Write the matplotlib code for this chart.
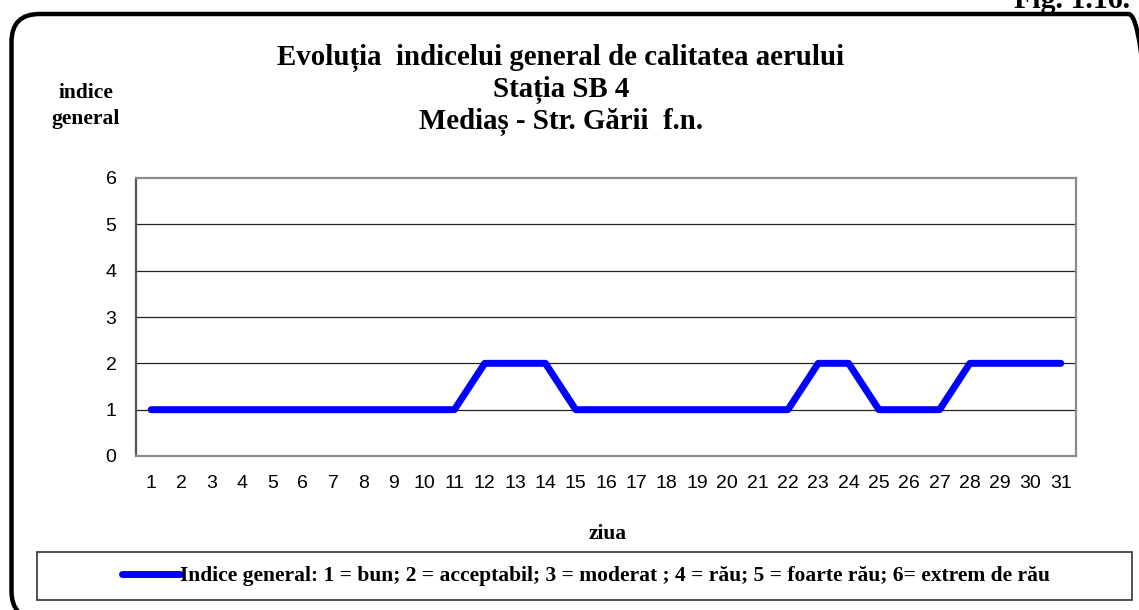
import matplotlib
matplotlib.use("Agg")
import matplotlib.pyplot as plt
from matplotlib.patches import FancyBboxPatch, Rectangle

# ---- data ----
days = list(range(1, 32))
day_labels = [str(d) for d in days]
indice = [1, 1, 1, 1, 1, 1, 1, 1, 1, 1, 1,
          2, 2, 2,
          1, 1, 1, 1, 1, 1, 1, 1,
          2, 2,
          1, 1, 1,
          2, 2, 2, 2]
y_ticks = [0, 1, 2, 3, 4, 5, 6]

title = "Evoluția  indicelui general de calitatea aerului\nStația SB 4\nMediaș - Str. Gării  f.n."
legend_label = "Indice general: 1 = bun; 2 = acceptabil; 3 = moderat ; 4 = rău; 5 = foarte rău; 6= extrem de rău"

W, H = 1139, 610
fig = plt.figure(figsize=(W / 100, H / 100), dpi=100)
fig.patch.set_facecolor("white")

def fx(px):
    return px / W

def fy(py):
    return 1 - py / H

serif = "Liberation Serif"
sans = "Liberation Sans"

# outer rounded frame, runs off the right/bottom edges (inches from bottom-left)
frame = FancyBboxPatch((0.115, (H - 619) / 100), 11.45, (619 - 14) / 100,
                       boxstyle="round,pad=0,rounding_size=0.28",
                       transform=fig.dpi_scale_trans, facecolor="none",
                       edgecolor="black", linewidth=3.2, clip_on=False)
fig.patches.append(frame)

fig.text(fx(1130), fy(8), "Fig. 1.16.", ha="right", va="baseline",
         family=serif, weight="bold", fontsize=21.5)

# ---- axes ----
ax = fig.add_axes([fx(136), fy(456), fx(1076) - fx(136), fy(178) - fy(456)])
ax.plot(days, indice, color="#0000ff", linewidth=5, solid_capstyle="round",
        solid_joinstyle="round", label=legend_label, zorder=3)

ax.set_xlim(0.5, 31.5)
ax.set_ylim(0, 6)
ax.set_yticks(y_ticks)
ax.set_xticks(days)
ax.set_xticklabels(day_labels)
ax.tick_params(length=0, labelsize=14)
ax.tick_params(axis="x", pad=14)
ax.tick_params(axis="y", pad=14)
for lab in ax.get_xticklabels() + ax.get_yticklabels():
    lab.set_family(sans)

for y in y_ticks[1:-1]:
    ax.axhline(y, color="#222222", linewidth=0.9, zorder=1)

for side in ("top", "right", "bottom"):
    ax.spines[side].set_color("#8c8c8c")
    ax.spines[side].set_linewidth(1.6)
ax.spines["left"].set_color("#555555")
ax.spines["left"].set_linewidth(1.6)

# ---- texts ----
fig.text(fx(561), fy(90), title, ha="center", va="center", family=serif,
         weight="bold", fontsize=20.8, linespacing=1.18)
fig.text(fx(86), fy(106), "indice\ngeneral", ha="center", va="center",
         family=serif, weight="bold", fontsize=15.5, linespacing=1.38)
fig.text(fx(608), fy(534), "ziua", ha="center", va="center",
         family=serif, weight="bold", fontsize=15.5)

# ---- legend ----
box = Rectangle((fx(37), fy(600)), fx(1132) - fx(37), fy(552) - fy(600),
                transform=fig.transFigure, facecolor="white",
                edgecolor="#333333", linewidth=1.2)
fig.patches.append(box)
handles, labels = ax.get_legend_handles_labels()
fig.legend(handles, labels, loc="center", bbox_to_anchor=(fx(586), fy(576)),
           frameon=False, handlelength=2.7, handletextpad=0.0,
           prop={"family": serif, "weight": "bold", "size": 15.5})

fig.savefig("out.png", dpi=100)
